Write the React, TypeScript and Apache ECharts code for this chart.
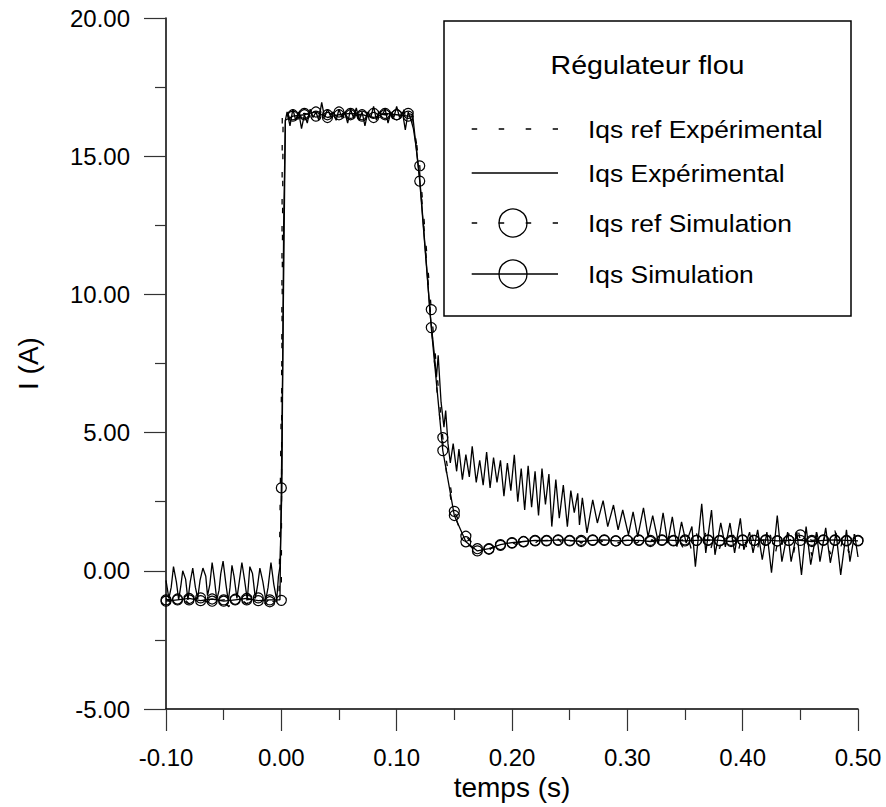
import React, { useEffect, useRef } from "react";
import * as echarts from "echarts";

const FONT = "'Liberation Sans', Arial, Helvetica, sans-serif";

// Simulation sample instants (markers every 10 ms)
const simT = [
  -0.1, -0.09, -0.08, -0.07, -0.06, -0.05, -0.04, -0.03, -0.02, -0.01, 0.0,
  0.01, 0.02, 0.03, 0.04, 0.05, 0.06, 0.07, 0.08, 0.09, 0.1, 0.11,
  0.12, 0.13, 0.14, 0.15, 0.16, 0.17, 0.18, 0.19, 0.2, 0.21,
  0.22, 0.23, 0.24, 0.25, 0.26, 0.27, 0.28, 0.29, 0.3, 0.31, 0.32, 0.33, 0.34, 0.35,
  0.36, 0.37, 0.38, 0.39, 0.4, 0.41, 0.42, 0.43, 0.44, 0.45, 0.46, 0.47, 0.48, 0.49, 0.5,
];

// Iqs ref Simulation
const iqsRefSim = [
  -1.05, -1.02, -1.05, -0.98, -1.1, -1.05, -1.03, -1.05, -0.98, -1.12, -1.07,
  16.5, 16.55, 16.45, 16.5, 16.6, 16.5, 16.45, 16.55, 16.5, 16.5, 16.55,
  14.65, 9.45, 4.82, 2.15, 1.25, 0.8, 0.78, 0.92, 1.0, 1.05,
  1.08, 1.1, 1.1, 1.08, 1.1, 1.12, 1.1, 1.08, 1.1, 1.12, 1.1, 1.1, 1.08, 1.12,
  1.1, 1.1, 1.08, 1.1, 1.12, 1.1, 1.1, 1.08, 1.1, 1.3, 1.1, 1.12, 1.1, 1.08, 1.1,
];
const iqsRefSimKnees = [
  [0.0008, 16.4],
  [0.1135, 16.5],
];

// Iqs Simulation
const iqsSim = [
  -1.1, -1.05, -1.0, -1.08, -1.02, -1.1, -1.05, -1.0, -1.08, -1.05, 3.0,
  16.45, 16.5, 16.6, 16.4, 16.5, 16.55, 16.5, 16.4, 16.55, 16.5, 16.45,
  14.1, 8.8, 4.35, 2.0, 1.05, 0.72, 0.8, 0.95, 1.02, 1.06,
  1.1, 1.08, 1.12, 1.1, 1.06, 1.1, 1.12, 1.08, 1.1, 1.1, 1.06, 1.12, 1.1, 1.08,
  1.1, 1.12, 1.1, 1.06, 1.1, 1.1, 1.12, 1.08, 1.1, 1.1, 1.06, 1.1, 1.12, 1.1, 1.08,
];
const iqsSimKnees = [
  [-0.0012, -1.05],
  [0.0035, 16.3],
  [0.114, 16.45],
];

// Iqs Expérimental (measured current) [t, I]
const iqsExp = [
  [-0.1, -0.35], [-0.0975, -1.0], [-0.0955, -0.6], [-0.0935, 0.15], [-0.091, -0.4], [-0.089, -1.05],
  [-0.087, -0.5], [-0.0855, 0.0], [-0.083, -0.3], [-0.081, -1.05], [-0.079, -0.4], [-0.0768, 0.1],
  [-0.0745, -0.6], [-0.0725, -1.0], [-0.0705, -0.35], [-0.068, 0.1], [-0.0655, -0.2], [-0.064, -0.9],
  [-0.062, -0.5], [-0.06, 0.3], [-0.058, -0.3], [-0.056, -1.05], [-0.054, -0.7], [-0.0525, -0.1],
  [-0.0505, 0.35], [-0.048, -0.5], [-0.046, -1.1], [-0.0445, -0.6], [-0.0428, 0.2], [-0.041, -0.2],
  [-0.0385, -1.0], [-0.0365, -0.4], [-0.0342, 0.3], [-0.032, -0.3], [-0.0295, -1.05], [-0.0273, 0.15],
  [-0.025, -0.1], [-0.0225, -1.0], [-0.0205, -0.5], [-0.0186, 0.1], [-0.016, -0.4], [-0.0135, -1.05],
  [-0.0115, -0.6], [-0.009, 0.3], [-0.0065, -0.5], [-0.004, -1.05], [-0.0025, -0.2], [-0.0012, 0.15],
  [0.0005, 3.0], [0.002, 12.5], [0.0035, 16.3],
  [0.005, 16.6], [0.0075, 16.1], [0.01, 16.7], [0.0125, 16.3], [0.015, 16.6], [0.0175, 16.0],
  [0.02, 16.5], [0.0225, 16.2], [0.025, 16.7], [0.0275, 16.4], [0.03, 16.6], [0.0325, 16.3],
  [0.035, 16.95], [0.0375, 16.4], [0.04, 16.7], [0.0425, 16.5], [0.045, 16.6], [0.0475, 16.3],
  [0.05, 16.7], [0.0525, 16.4], [0.055, 16.6], [0.0575, 16.2], [0.06, 16.7], [0.0625, 16.4],
  [0.065, 16.75], [0.0675, 16.3], [0.07, 16.6], [0.0725, 16.1], [0.075, 16.6], [0.0775, 16.4],
  [0.08, 16.8], [0.0825, 16.3], [0.085, 16.6], [0.0875, 16.5], [0.09, 16.7], [0.0925, 16.2],
  [0.095, 16.6], [0.0975, 16.4], [0.1, 16.8], [0.1025, 16.4], [0.105, 16.6], [0.1075, 15.95],
  [0.11, 16.6], [0.1125, 16.3], [0.1145, 16.0],
  [0.117, 15.3], [0.12, 14.2], [0.123, 12.6], [0.126, 11.0], [0.129, 9.3], [0.132, 8.1],
  [0.1345, 7.0], [0.136, 7.8], [0.1385, 6.1], [0.141, 5.2], [0.1425, 5.8], [0.1445, 4.6],
  [0.1465, 3.9], [0.149, 4.6], [0.152, 3.6], [0.154, 4.4], [0.157, 3.3], [0.16, 4.2],
  [0.163, 3.4], [0.1655, 4.5], [0.169, 3.2], [0.172, 4.0], [0.175, 3.1], [0.178, 4.3],
  [0.181, 3.0], [0.184, 4.1], [0.187, 3.2], [0.19, 4.0], [0.193, 2.7], [0.196, 3.9],
  [0.199, 2.9], [0.202, 4.2], [0.205, 2.5], [0.208, 3.7], [0.211, 2.2], [0.214, 3.8],
  [0.217, 2.3], [0.22, 3.6], [0.223, 2.0], [0.226, 3.7], [0.229, 2.4], [0.232, 3.5],
  [0.2345, 1.6], [0.238, 3.3], [0.241, 1.9], [0.2445, 3.1], [0.248, 1.6], [0.251, 2.9],
  [0.254, 2.1], [0.257, 2.8], [0.2585, 1.66], [0.261, 2.64], [0.265, 1.37], [0.27, 2.57],
  [0.274, 1.73], [0.279, 2.54], [0.283, 1.6], [0.288, 2.38], [0.292, 1.48], [0.296, 2.2],
  [0.301, 1.3], [0.305, 2.13], [0.309, 1.23], [0.314, 2.28], [0.318, 1.23], [0.322, 2.0],
  [0.327, 1.0], [0.331, 2.1], [0.335, 1.0], [0.339, 1.95], [0.343, 0.87], [0.347, 1.77],
  [0.351, 1.0], [0.356, 1.6], [0.359, 0.15], [0.3645, 2.42], [0.368, 0.65], [0.373, 2.2],
  [0.376, 0.58], [0.381, 1.73], [0.385, 0.87], [0.389, 1.73], [0.393, 0.65], [0.398, 1.9],
  [0.401, 0.76], [0.406, 1.4], [0.409, 0.65], [0.413, 1.48], [0.417, 0.4], [0.421, 1.4],
  [0.425, -0.07], [0.43, 2.0], [0.434, 0.33], [0.439, 1.4], [0.442, 0.33], [0.447, 1.4],
  [0.451, -0.15], [0.455, 1.6], [0.459, 0.22], [0.464, 1.4], [0.467, 0.33], [0.472, 1.55],
  [0.476, 0.29], [0.481, 1.37], [0.485, -0.15], [0.49, 1.48], [0.493, 0.33], [0.497, 1.33],
  [0.5, 0.5],
];

// Iqs ref Expérimental [t, I]
const iqsRefExp = [
  [-0.1, -1.0], [-0.096, -1.15], [-0.092, -0.95], [-0.088, -1.1], [-0.084, -1.02], [-0.08, -1.2],
  [-0.076, -0.98], [-0.072, -1.1], [-0.068, -1.0], [-0.064, -1.15], [-0.06, -0.95], [-0.056, -1.1],
  [-0.052, -1.05], [-0.048, -1.2], [-0.0455, -1.3], [-0.042, -1.0], [-0.038, -1.15], [-0.034, -1.05],
  [-0.03, -1.2], [-0.026, -1.0], [-0.022, -1.1], [-0.018, -1.02], [-0.014, -1.18], [-0.01, -1.0],
  [-0.006, -1.12], [-0.002, -1.05],
  [0.0005, 8.0], [0.0015, 16.3],
  [0.004, 16.7], [0.007, 16.4], [0.01, 16.6], [0.013, 16.2], [0.016, 16.5], [0.019, 16.3],
  [0.022, 16.7], [0.025, 16.4], [0.028, 16.6], [0.031, 16.3], [0.034, 16.7], [0.037, 16.5],
  [0.04, 16.8], [0.043, 16.4], [0.046, 16.6], [0.049, 16.5], [0.052, 16.7], [0.055, 16.3],
  [0.058, 16.6], [0.061, 16.4], [0.064, 16.6], [0.067, 16.5], [0.07, 16.8], [0.073, 16.4],
  [0.076, 16.6], [0.079, 16.3], [0.082, 16.6], [0.085, 16.4], [0.088, 16.7], [0.091, 16.5],
  [0.094, 16.6], [0.097, 16.3], [0.1, 16.6], [0.103, 16.5], [0.106, 16.7], [0.109, 16.2],
  [0.112, 16.5], [0.114, 16.3],
  [0.117, 15.6], [0.12, 14.4], [0.123, 12.8], [0.126, 11.1], [0.129, 9.5], [0.132, 7.9],
  [0.135, 6.5], [0.138, 5.3], [0.141, 4.3], [0.144, 3.3], [0.147, 2.6], [0.15, 2.1],
  [0.153, 1.7], [0.156, 1.4], [0.159, 1.15], [0.162, 0.95], [0.165, 0.85], [0.168, 0.72],
  [0.171, 0.78], [0.174, 0.68], [0.177, 0.8], [0.18, 0.75],
  [0.184, 0.88], [0.188, 0.82], [0.192, 0.95], [0.196, 0.9], [0.2, 1.02], [0.204, 0.95],
  [0.208, 1.08], [0.212, 0.98], [0.216, 1.1], [0.22, 1.0], [0.224, 1.12], [0.228, 0.98],
  [0.232, 1.1], [0.236, 1.02], [0.24, 1.15], [0.244, 0.98], [0.248, 1.1], [0.252, 1.0],
  [0.256, 1.15], [0.26, 1.0], [0.264, 1.12], [0.268, 0.95], [0.272, 1.15], [0.276, 1.02],
  [0.28, 1.1], [0.284, 0.95], [0.288, 1.18], [0.292, 1.0], [0.296, 1.1], [0.3, 0.92],
  [0.304, 1.2], [0.308, 1.0], [0.312, 1.12], [0.316, 0.9], [0.32, 1.2], [0.324, 1.0],
  [0.328, 1.15], [0.332, 0.9], [0.336, 1.25], [0.34, 0.95], [0.344, 1.2], [0.348, 0.85],
  [0.352, 1.3], [0.356, 0.7], [0.36, 1.35], [0.364, 0.8], [0.368, 1.4], [0.372, 0.75],
  [0.376, 1.3], [0.38, 0.8], [0.384, 1.45], [0.388, 0.7], [0.392, 1.3], [0.396, 0.65],
  [0.4, 1.4], [0.404, 0.75], [0.408, 1.35], [0.412, 0.6], [0.416, 1.45], [0.42, 0.7],
  [0.424, 1.3], [0.428, 0.55], [0.432, 1.4], [0.436, 0.7], [0.44, 1.35], [0.444, 0.6],
  [0.448, 1.5], [0.452, 0.7], [0.456, 1.3], [0.46, 0.55], [0.464, 1.4], [0.468, 0.75],
  [0.472, 1.35], [0.476, 0.6], [0.48, 1.45], [0.484, 0.7], [0.488, 1.3], [0.492, 0.65],
  [0.496, 1.4], [0.5, 0.8],
];

const seriesNames = [
  "Iqs ref Expérimental",
  "Iqs Expérimental",
  "Iqs ref Simulation",
  "Iqs Simulation",
];
const legendTitle = "Régulateur flou";

const DASH = [5.5, 21.5];

function simData(ys: number[], knees: number[][]) {
  const pts: any[] = simT.map((t, i) => ({ value: [t, ys[i]] }));
  const k = knees.map((p) => ({ value: p, symbol: "none" }));
  return pts.concat(k).sort((a, b) => a.value[0] - b.value[0]);
}

const fmt = (v: number) => (Math.abs(v) < 1e-9 ? 0 : v).toFixed(2);

function buildOption() {
  const axisCommon = {
    type: "value" as const,
    axisLine: { show: true, onZero: false, lineStyle: { color: "#000", width: 1.5 } },
    axisTick: { show: true, inside: false, length: 22, lineStyle: { color: "#333", width: 1.2 } },
    minorTick: { show: true, splitNumber: 2, length: 11, lineStyle: { color: "#333", width: 1.2 } },
    splitLine: { show: false },
    minorSplitLine: { show: false },
    axisLabel: {
      color: "#000",
      fontSize: 24,
      fontFamily: FONT,
      margin: 36,
      formatter: fmt,
    },
    nameLocation: "middle" as const,
    nameTextStyle: { color: "#000", fontSize: 28, fontFamily: FONT },
  };

  const rowsY = [129, 173, 223, 274];
  const lineX1 = 471.7;
  const lineX2 = 558;
  const textX = 588;
  const circleX = 513;

  const legendEls: any[] = [
    {
      type: "rect",
      shape: { x: 444, y: 21, width: 407, height: 295 },
      style: { fill: "#fff", stroke: "#000", lineWidth: 1.5 },
      z: 100,
    },
    {
      type: "text",
      x: 647.5,
      y: 65,
      scaleX: 1.1,
      style: {
        text: legendTitle,
        fontSize: 26,
        fontFamily: FONT,
        fill: "#000",
        align: "center",
        verticalAlign: "middle",
      },
      z: 101,
    },
  ];
  rowsY.forEach((y, i) => {
    const dashed = i === 0 || i === 2;
    const withCircle = i >= 2;
    legendEls.push({
      type: "line",
      shape: { x1: lineX1, y1: y, x2: lineX2, y2: y },
      style: { stroke: "#000", lineWidth: 1.3, lineDash: dashed ? DASH : null },
      z: 101,
    });
    if (withCircle) {
      legendEls.push({
        type: "circle",
        shape: { cx: circleX, cy: y, r: 14 },
        style: { fill: "none", stroke: "#000", lineWidth: 1.3 },
        z: 101,
      });
    }
    legendEls.push({
      type: "text",
      x: textX,
      y: y,
      scaleX: 1.1,
      style: {
        text: seriesNames[i],
        fontSize: 24,
        fontFamily: FONT,
        fill: "#000",
        align: "left",
        verticalAlign: "middle",
      },
      z: 101,
    });
  });

  const symbolStyle = {
    color: "rgba(0,0,0,0)",
    borderColor: "#000",
    borderWidth: 1.2,
  };

  return {
    animation: false,
    backgroundColor: "#fff",
    textStyle: { fontFamily: FONT },
    grid: { left: 166, right: 28, top: 18, bottom: 98, containLabel: false },
    xAxis: {
      ...axisCommon,
      min: -0.1,
      max: 0.5,
      interval: 0.1,
      name: "temps (s)",
      nameGap: 64,
    },
    yAxis: {
      ...axisCommon,
      min: -5,
      max: 20,
      interval: 5,
      name: "I (A)",
      nameGap: 124,
      nameRotate: 90,
    },
    series: [
      {
        name: seriesNames[0],
        type: "line",
        data: iqsRefExp,
        showSymbol: false,
        symbol: "none",
        lineStyle: { color: "#000", width: 1.3, type: DASH },
        z: 2,
      },
      {
        name: seriesNames[1],
        type: "line",
        data: iqsExp,
        showSymbol: false,
        symbol: "none",
        lineStyle: { color: "#000", width: 1.3 },
        z: 3,
      },
      {
        name: seriesNames[2],
        type: "line",
        data: simData(iqsRefSim, iqsRefSimKnees),
        symbol: "circle",
        symbolSize: 10,
        showAllSymbol: true,
        itemStyle: symbolStyle,
        lineStyle: { color: "#000", width: 1.3, type: DASH },
        z: 4,
      },
      {
        name: seriesNames[3],
        type: "line",
        data: simData(iqsSim, iqsSimKnees),
        symbol: "circle",
        symbolSize: 10,
        showAllSymbol: true,
        itemStyle: symbolStyle,
        lineStyle: { color: "#000", width: 1.3 },
        z: 5,
      },
    ],
    graphic: legendEls,
  };
}

export default function App() {
  const ref = useRef<HTMLDivElement>(null);
  useEffect(() => {
    if (!ref.current) return;
    const chart = echarts.init(ref.current, null, { renderer: "svg" });
    chart.setOption(buildOption() as any);
    return () => chart.dispose();
  }, []);
  return (
    <div
      ref={ref}
      style={{ position: "fixed", left: 0, top: 0, width: 886, height: 807, background: "#fff" }}
    />
  );
}
